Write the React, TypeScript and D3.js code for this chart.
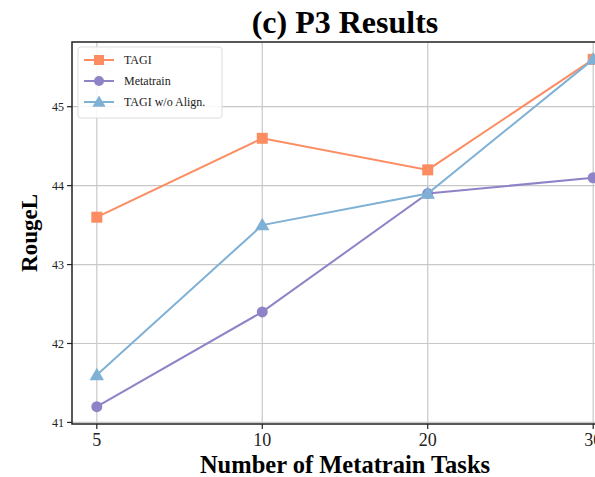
import React, { useEffect, useRef } from "react";
import * as d3 from "d3";

const categories = ["5", "10", "20", "30"];
const tagi = [43.6, 44.6, 44.2, 45.6];
const metatrain = [41.2, 42.4, 43.9, 44.1];
const tagiNoAlign = [41.6, 43.5, 43.9, 45.6];
const yTicks = [41, 42, 43, 44, 45];

const series = [
  { name: "TAGI", values: tagi, color: "#fc8d62", marker: "square" },
  { name: "Metatrain", values: metatrain, color: "#8f83c8", marker: "circle" },
  { name: "TAGI w/o Align.", values: tagiNoAlign, color: "#7fb1d6", marker: "triangle" },
];

const W = 595;
const H = 477;
const margin = { left: 72, top: 42, right: 618, bottom: 424 };
const serif = "Liberation Serif, Times New Roman, serif";

function drawMarker(g: any, type: string, x: number, y: number, color: string, s: number) {
  if (type === "square") {
    g.append("rect")
      .attr("x", x - s / 2)
      .attr("y", y - s / 2)
      .attr("width", s)
      .attr("height", s)
      .attr("fill", color);
  } else if (type === "circle") {
    g.append("circle").attr("cx", x).attr("cy", y).attr("r", s / 2).attr("fill", color);
  } else {
    const sym = d3.symbol().type(d3.symbolTriangle).size(s * s * 0.75);
    g.append("path")
      .attr("d", sym())
      .attr("transform", `translate(${x},${y + 1})`)
      .attr("fill", color);
  }
}

export default function App() {
  const ref = useRef<SVGSVGElement>(null);

  useEffect(() => {
    document.body.style.margin = "0";
    const svg = d3.select(ref.current);
    svg.selectAll("*").remove();

    // matplotlib-style 5% margins on the 4 categorical positions
    const x = d3
      .scalePoint()
      .domain(categories)
      .range([margin.left, margin.right])
      .padding(0.15);

    const y = d3.scaleLinear().domain([40.98, 45.82]).range([margin.bottom, margin.top]);

    // grid
    svg
      .append("g")
      .selectAll("line")
      .data(categories)
      .join("line")
      .attr("x1", (d) => x(d)!)
      .attr("x2", (d) => x(d)!)
      .attr("y1", margin.top)
      .attr("y2", margin.bottom)
      .attr("stroke", "#c8c8c8")
      .attr("stroke-width", 1.2);
    svg
      .append("g")
      .selectAll("line")
      .data(yTicks)
      .join("line")
      .attr("x1", margin.left)
      .attr("x2", margin.right)
      .attr("y1", (d) => y(d))
      .attr("y2", (d) => y(d))
      .attr("stroke", "#c8c8c8")
      .attr("stroke-width", 1.2);

    // series
    const line = d3
      .line<number>()
      .x((_, i) => x(categories[i])!)
      .y((d) => y(d));
    series.forEach((s) => {
      const g = svg.append("g");
      g.append("path")
        .attr("d", line(s.values))
        .attr("fill", "none")
        .attr("stroke", s.color)
        .attr("stroke-width", 2);
      s.values.forEach((v, i) => drawMarker(g, s.marker, x(categories[i])!, y(v), s.color, 11));
    });

    // spines
    svg
      .append("rect")
      .attr("x", margin.left)
      .attr("y", margin.top)
      .attr("width", margin.right - margin.left)
      .attr("height", margin.bottom - margin.top)
      .attr("fill", "none")
      .attr("stroke", "#222")
      .attr("stroke-width", 1.5);

    // ticks
    const yAxis = svg.append("g");
    yTicks.forEach((t) => {
      yAxis
        .append("line")
        .attr("x1", margin.left - 5)
        .attr("x2", margin.left)
        .attr("y1", y(t))
        .attr("y2", y(t))
        .attr("stroke", "#222")
        .attr("stroke-width", 1.2);
      yAxis
        .append("text")
        .attr("x", margin.left - 8)
        .attr("y", y(t))
        .attr("dy", "0.35em")
        .attr("text-anchor", "end")
        .attr("font-family", serif)
        .attr("font-size", 12)
        .attr("fill", "#222")
        .text(t);
    });
    const xAxis = svg.append("g");
    categories.forEach((c) => {
      xAxis
        .append("line")
        .attr("x1", x(c)!)
        .attr("x2", x(c)!)
        .attr("y1", margin.bottom)
        .attr("y2", margin.bottom + 5)
        .attr("stroke", "#222")
        .attr("stroke-width", 1.2);
      xAxis
        .append("text")
        .attr("x", x(c)!)
        .attr("y", margin.bottom + 22)
        .attr("text-anchor", "middle")
        .attr("font-family", serif)
        .attr("font-size", 18)
        .attr("fill", "#222")
        .text(c);
    });

    // labels
    svg
      .append("text")
      .attr("x", (margin.left + margin.right) / 2)
      .attr("y", 33)
      .attr("text-anchor", "middle")
      .attr("font-family", serif)
      .attr("font-weight", "bold")
      .attr("font-size", 32)
      .text("(c) P3 Results");
    svg
      .append("text")
      .attr("x", (margin.left + margin.right) / 2)
      .attr("y", 473)
      .attr("text-anchor", "middle")
      .attr("font-family", serif)
      .attr("font-weight", "bold")
      .attr("font-size", 24.5)
      .text("Number of Metatrain Tasks");
    svg
      .append("text")
      .attr("transform", `translate(37,${(margin.top + margin.bottom) / 2}) rotate(-90)`)
      .attr("text-anchor", "middle")
      .attr("font-family", serif)
      .attr("font-weight", "bold")
      .attr("font-size", 23)
      .text("RougeL");

    // legend
    const lg = svg.append("g").attr("transform", "translate(78,47)");
    lg.append("rect")
      .attr("width", 144)
      .attr("height", 71)
      .attr("rx", 3)
      .attr("fill", "white")
      .attr("fill-opacity", 0.85)
      .attr("stroke", "#ddd");
    series.forEach((s, i) => {
      const yy = 13 + i * 21;
      lg.append("line")
        .attr("x1", 6)
        .attr("x2", 36)
        .attr("y1", yy)
        .attr("y2", yy)
        .attr("stroke", s.color)
        .attr("stroke-width", 2);
      drawMarker(lg, s.marker, 21, yy, s.color, 10);
      lg.append("text")
        .attr("x", 46)
        .attr("y", yy)
        .attr("dy", "0.35em")
        .attr("font-family", serif)
        .attr("font-size", 12)
        .attr("fill", "#222")
        .text(s.name);
    });
  }, []);

  return <svg ref={ref} width={W} height={H} style={{ display: "block", background: "white" }} />;
}
